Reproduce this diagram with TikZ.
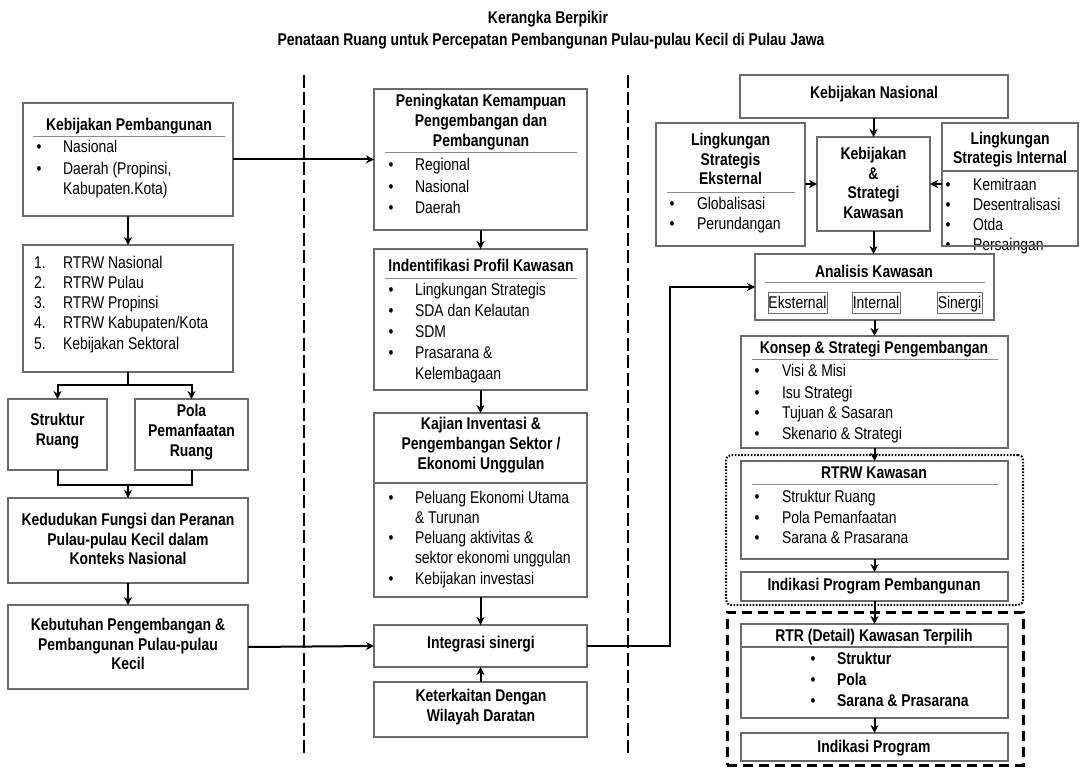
\documentclass[tikz,border=0pt]{standalone}
\usepackage{fontspec}
\setmainfont[FakeStretch=0.82]{Liberation Sans}
\usetikzlibrary{arrows.meta}
\newcommand\bx[6][]{\node[box,#1,minimum width={#5-#3},minimum height={#6-#4}] (#2) at ({(#3+#5)/2},{(#4+#6)/2}) {};}
\newcommand\tx[4][]{\node[txt,anchor=base west,#1] (#2) at (#3) {#4};}
\newcommand\bl[5]{\node[txt,anchor=base] (#1b) at (#2,#4) {•};\node[txt,anchor=base west] (#1) at (#3,#4) {#5};}
\tikzset{
  box/.style={draw=black!58,line width=1.4pt,inner sep=0pt,outer sep=0pt},
  sepline/.style={draw=black!45,line width=1pt},
  arr/.style={draw=black,line width=2pt,-{Stealth[length=8pt,width=8pt,inset=2.5pt]}},
  conn/.style={draw=black,line width=2pt},
  txt/.style={inner sep=0pt,outer sep=0pt,font=\fontsize{17}{20}\selectfont},
  ttl/.style={inner sep=0pt,outer sep=0pt,align=center,font=\fontsize{17}{19.7}\selectfont\bfseries},
  ttlb/.style={ttl,anchor=base},
  divider/.style={draw=black,line width=2.4pt,dash pattern=on 13pt off 4.5pt},
}
\begin{document}
\begin{tikzpicture}[x=1pt,y=-1pt]
\useasboundingbox (0,0) rectangle (1083,778);
\fill[white] (0,0) rectangle (1083,778);
% title
\node[ttlb] (title1) at (548,24) {Kerangka Berpikir};
\node[ttlb] (title2) at (551,46) {Penataan Ruang untuk Percepatan Pembangunan Pulau-pulau Kecil di Pulau Jawa};
% dividers
\coordinate (d1a) at (304,75); \coordinate (d1b) at (304,753);
\coordinate (d2a) at (628,75); \coordinate (d2b) at (628,753);
\draw[divider] (d1a) -- (d1b);
\draw[divider] (d2a) -- (d2b);

% ===== left column =====
\bx{kp}{23}{103}{233}{216}
\node[ttlb] (kpt) at (129,131) {Kebijakan Pembangunan};
\draw[sepline] (33,137) -- (225,137);
\bl{kp1}{39}{63}{153}{Nasional}
\bl{kp2}{39}{63}{175}{Daerah (Propinsi,}
\tx{kp3}{63,194}{Kabupaten.Kota)}

\bx{rt}{23}{245}{233}{372}
\tx{rt1n}{34,268}{1.}\tx{rt1}{63,268}{RTRW Nasional}
\tx{rt2n}{34,288}{2.}\tx{rt2}{63,288}{RTRW Pulau}
\tx{rt3n}{34,308}{3.}\tx{rt3}{63,308}{RTRW Propinsi}
\tx{rt4n}{34,328}{4.}\tx{rt4}{63,328}{RTRW Kabupaten/Kota}
\tx{rt5n}{34,349}{5.}\tx{rt5}{63,349}{Kebijakan Sektoral}

\bx{sr}{8}{399}{107}{470}
\node[ttl] (srt) at (57.5,431) {Struktur\\Ruang};
\bx{pr}{135}{399}{248}{470}
\node[ttl] (prt) at (191.5,432) {Pola\\Pemanfaatan\\Ruang};

\bx{ked}{8}{498}{248}{583}
\node[ttl] (kedt) at (128,539) {Kedudukan Fungsi dan Peranan\\Pulau-pulau Kecil dalam\\Konteks Nasional};
\bx{kbt}{8}{605}{248}{689}
\node[ttl] (kbtt) at (128,644) {Kebutuhan Pengembangan \&\\Pembangunan Pulau-pulau\\Kecil};

\coordinate (j1) at (128,385);
\coordinate (j2) at (128,485);
\draw[arr] (kp.south) -- (rt.north);
\draw[conn] (rt.south) -- (j1);
\draw[arr] (j1) -| (sr.north);
\draw[arr] (j1) -| (pr.north);
\draw[conn] (sr.south) |- (j2);
\draw[conn] (pr.south) |- (j2);
\draw[arr] (j2) -- (ked.north);
\draw[arr] (ked.south) -- (kbt.north);

% ===== middle column =====
\bx{pen}{374}{89}{587}{230}
\node[ttl] (pent) at (481,122) {Peningkatan Kemampuan\\Pengembangan dan\\Pembangunan};
\draw[sepline] (385,153) -- (577,153);
\bl{pen1}{391}{415}{171}{Regional}
\bl{pen2}{391}{415}{192}{Nasional}
\bl{pen3}{391}{415}{213}{Daerah}

\bx{idn}{374}{249}{587}{390}
\node[ttlb] (idnt) at (481,271) {Indentifikasi Profil Kawasan};
\draw[sepline] (385,278) -- (577,278);
\bl{idn1}{391}{415}{295}{Lingkungan Strategis}
\bl{idn2}{391}{415}{316}{SDA dan Kelautan}
\bl{idn3}{391}{415}{337}{SDM}
\bl{idn4}{391}{415}{358}{Prasarana \&}
\tx{idn5}{415,379}{Kelembagaan}

\bx{kaj}{374}{413}{587}{597}
\node[ttl] (kajt) at (481,445) {Kajian Inventasi \&\\Pengembangan Sektor /\\Ekonomi Unggulan};
\draw[box] (kaj.west |- 0,483) -- (kaj.east |- 0,483);
\bl{kaj1}{391}{415}{503}{Peluang Ekonomi Utama}
\tx{kaj2}{415,523}{\& Turunan}
\bl{kaj3}{391}{415}{543}{Peluang aktivitas \&}
\tx{kaj4}{415,563}{sektor ekonomi unggulan}
\bl{kaj5}{391}{415}{584}{Kebijakan investasi}

\bx{integ}{374}{625}{587}{667}
\node[ttlb] (integt) at (481,648) {Integrasi sinergi};
\bx{ket}{374}{682}{587}{737}
\node[ttl] (kett) at (481,707) {Keterkaitan Dengan\\Wilayah Daratan};

\draw[arr] (kp.east) -- (pen.west);
\draw[arr] (pen.south) -- (idn.north);
\draw[arr] (idn.south) -- (kaj.north);
\draw[arr] (kaj.south) -- (integ.north);
\draw[arr] (ket.north) -- (integ.south);
\draw[arr] (kbt.east) -- (integ.west);

% ===== right column =====
\bx{kn}{740}{75}{1008}{118}
\node[ttlb] (knt) at (874,99) {Kebijakan Nasional};

\bx{ks}{817}{137}{930}{231}
\node[ttl] (kst) at (873.5,183) {Kebijakan\\\&\\Strategi\\Kawasan};

\bx{ext}{656}{123}{805}{246}
\node[ttl] (extt) at (730.5,159) {Lingkungan\\Strategis\\Eksternal};
\draw[sepline] (667,192) -- (795,192);
\bl{ext1}{672}{697}{209}{Globalisasi}
\bl{ext2}{672}{697}{229}{Perundangan}

\bx{int}{942}{123}{1078}{246}
\node[ttl] (intt) at (1010,149.5) {Lingkungan\\Strategis Internal};
\draw[box] (int.west |- 0,171) -- (int.east |- 0,171);
\bl{int1}{948}{973}{190}{Kemitraan}
\bl{int2}{948}{973}{210}{Desentralisasi}
\bl{int3}{948}{973}{230}{Otda}
\bl{int4}{948}{973}{250}{Persaingan}
\draw[box] (int.south west) -- (int.south east);

\bx{ana}{755}{254}{994}{320}
\node[ttlb] (anat) at (874,277) {Analisis Kawasan};
\draw[sepline] (765,282) -- (985,282);
\bx[line width=1pt]{an1}{768}{292}{827}{313}
\bx[line width=1pt]{an2}{852}{292}{900}{313}
\bx[line width=1pt]{an3}{937}{292}{982}{313}
\node[txt,anchor=base] (an1t) at (797.5,308) {Eksternal};
\node[txt,anchor=base] (an2t) at (876,308) {Internal};
\node[txt,anchor=base] (an3t) at (959.5,308) {Sinergi};

\bx{kon}{741}{336}{1008}{448}
\node[ttlb] (kont) at (874,353) {Konsep \& Strategi Pengembangan};
\draw[sepline] (752,359) -- (998,359);
\bl{kon1}{757}{782}{376}{Visi \& Misi}
\bl{kon2}{757}{782}{398}{Isu Strategi}
\bl{kon3}{757}{782}{418}{Tujuan \& Sasaran}
\bl{kon4}{757}{782}{439}{Skenario \& Strategi}

\node[draw=black,line width=2pt,dash pattern=on 1.6pt off 1.6pt,rounded corners=5pt,inner sep=0pt,minimum width=297,minimum height=150] (dotbox) at (874.5,530) {};

\bx{rk}{741}{461}{1008}{559}
\node[ttlb] (rkt) at (874,478) {RTRW Kawasan};
\draw[sepline] (752,484) -- (998,484);
\bl{rk1}{757}{782}{502}{Struktur Ruang}
\bl{rk2}{757}{782}{523}{Pola Pemanfaatan}
\bl{rk3}{757}{782}{543}{Sarana \& Prasarana}

\bx{ipp}{741}{572}{1008}{601}
\node[ttlb] (ippt) at (874,590) {Indikasi Program Pembangunan};

\node[draw=black,line width=3pt,dash pattern=on 10pt off 6pt,inner sep=0pt,minimum width=296,minimum height=153] (dashbox) at (875,688.5) {};

\bx{rtr}{741}{624}{1008}{718}
\node[ttlb] (rtrt) at (874,641) {RTR (Detail) Kawasan Terpilih};
\draw[box] (rtr.west |- 0,647) -- (rtr.east |- 0,647);
\node[txt,anchor=base] (rtr1b) at (813,664) {•};\node[txt,anchor=base west,font=\fontsize{17}{20}\selectfont\bfseries] (rtr1) at (837,664) {Struktur};
\node[txt,anchor=base] (rtr2b) at (813,685) {•};\node[txt,anchor=base west,font=\fontsize{17}{20}\selectfont\bfseries] (rtr2) at (837,685) {Pola};
\node[txt,anchor=base] (rtr3b) at (813,706) {•};\node[txt,anchor=base west,font=\fontsize{17}{20}\selectfont\bfseries] (rtr3) at (837,706) {Sarana \& Prasarana};

\bx{ip}{741}{733}{1008}{761}
\node[ttlb] (ipt) at (874,752) {Indikasi Program};

\coordinate (bend) at (670,287);
\draw[arr] (integ.east) -| (bend) -- (ana.west);
\draw[arr] (kn.south -| ks.north) -- (ks.north);
\draw[arr] (ext.east |- ks.west) -- (ks.west);
\draw[arr] (int.west |- ks.east) -- (ks.east);
\draw[arr] (ks.south) -- (ana.north -| ks.south);
\draw[arr] (ana.south -| kon.north) -- (kon.north);
\draw[arr] (kon.south) -- (rk.north);
\draw[arr] (rk.south) -- (ipp.north);
\draw[arr] (ipp.south) -- (rtr.north);
\draw[arr] (rtr.south) -- (ip.north);
\end{tikzpicture}
\end{document}
